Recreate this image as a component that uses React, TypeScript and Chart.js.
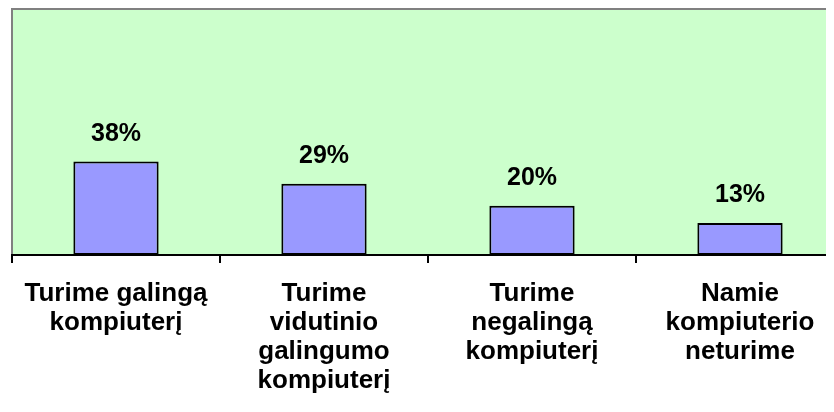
import React, { useEffect, useRef } from "react";
import { Chart, registerables } from "chart.js";

Chart.register(...registerables);

const categories: string[][] = [
  ["Turime galingą", "kompiuterį"],
  ["Turime", "vidutinio", "galingumo", "kompiuterį"],
  ["Turime", "negalingą", "kompiuterį"],
  ["Namie", "kompiuterio", "neturime"],
];
const values: number[] = [38, 29, 20, 13];
const valueLabels: string[] = ["38%", "29%", "20%", "13%"];

const FONT = "'Liberation Sans', Arial, sans-serif";

const plotBg = {
  id: "plotBg",
  beforeDraw(chart: any) {
    const { ctx, chartArea } = chart;
    if (!chartArea) return;
    ctx.save();
    ctx.fillStyle = "#CCFFCC";
    ctx.fillRect(chartArea.left, chartArea.top, chartArea.right - chartArea.left, chartArea.bottom - chartArea.top);
    ctx.strokeStyle = "#808080";
    ctx.lineWidth = 2;
    ctx.strokeRect(chartArea.left, chartArea.top, chartArea.right - chartArea.left, chartArea.bottom - chartArea.top);
    ctx.restore();
  },
};

const barLabels = {
  id: "barLabels",
  afterDatasetsDraw(chart: any) {
    const { ctx } = chart;
    const meta = chart.getDatasetMeta(0);
    ctx.save();
    ctx.fillStyle = "#000";
    ctx.font = `bold 25px ${FONT}`;
    ctx.textAlign = "center";
    ctx.textBaseline = "alphabetic";
    meta.data.forEach((el: any, i: number) => {
      ctx.fillText(valueLabels[i], el.x, el.y - 21);
    });
    ctx.restore();
  },
};

export default function App() {
  const ref = useRef<HTMLCanvasElement | null>(null);
  useEffect(() => {
    if (!ref.current) return;
    const chart = new Chart(ref.current, {
      type: "bar",
      data: {
        labels: categories,
        datasets: [
          {
            data: values,
            backgroundColor: "#9999FF",
            borderColor: "#000",
            borderWidth: 2,
            borderSkipped: false,
            barPercentage: 0.41,
            categoryPercentage: 1,
          },
        ],
      },
      options: {
        animation: false,
        responsive: true,
        maintainAspectRatio: false,
        layout: { padding: { left: 4, top: 1, right: 4, bottom: 0 } },
        plugins: { legend: { display: false }, tooltip: { enabled: false } },
        scales: {
          x: {
            z: 1,
            offset: true,
            afterFit: (scale: any) => {
              scale.height = 157;
            },
            grid: {
              offset: true,
              drawOnChartArea: false,
              drawTicks: true,
              tickLength: 8,
              color: "#000",
              lineWidth: 2,
            },
            border: { display: true, color: "#000", width: 2 },
            ticks: {
              color: "#000",
              font: { family: FONT, size: 26, weight: "bold", lineHeight: 1.115 },
              padding: 16,
              maxRotation: 0,
              minRotation: 0,
              autoSkip: false,
            },
          },
          y: { display: false, min: 0, max: 100 },
        },
      },
      plugins: [plotBg, barLabels],
    });
    return () => chart.destroy();
  }, []);
  return (
    <div style={{ width: 826, height: 404, overflow: "hidden", position: "relative" }}>
      <div style={{ width: 840, height: 404, position: "relative" }}>
        <canvas ref={ref} />
      </div>
    </div>
  );
}
